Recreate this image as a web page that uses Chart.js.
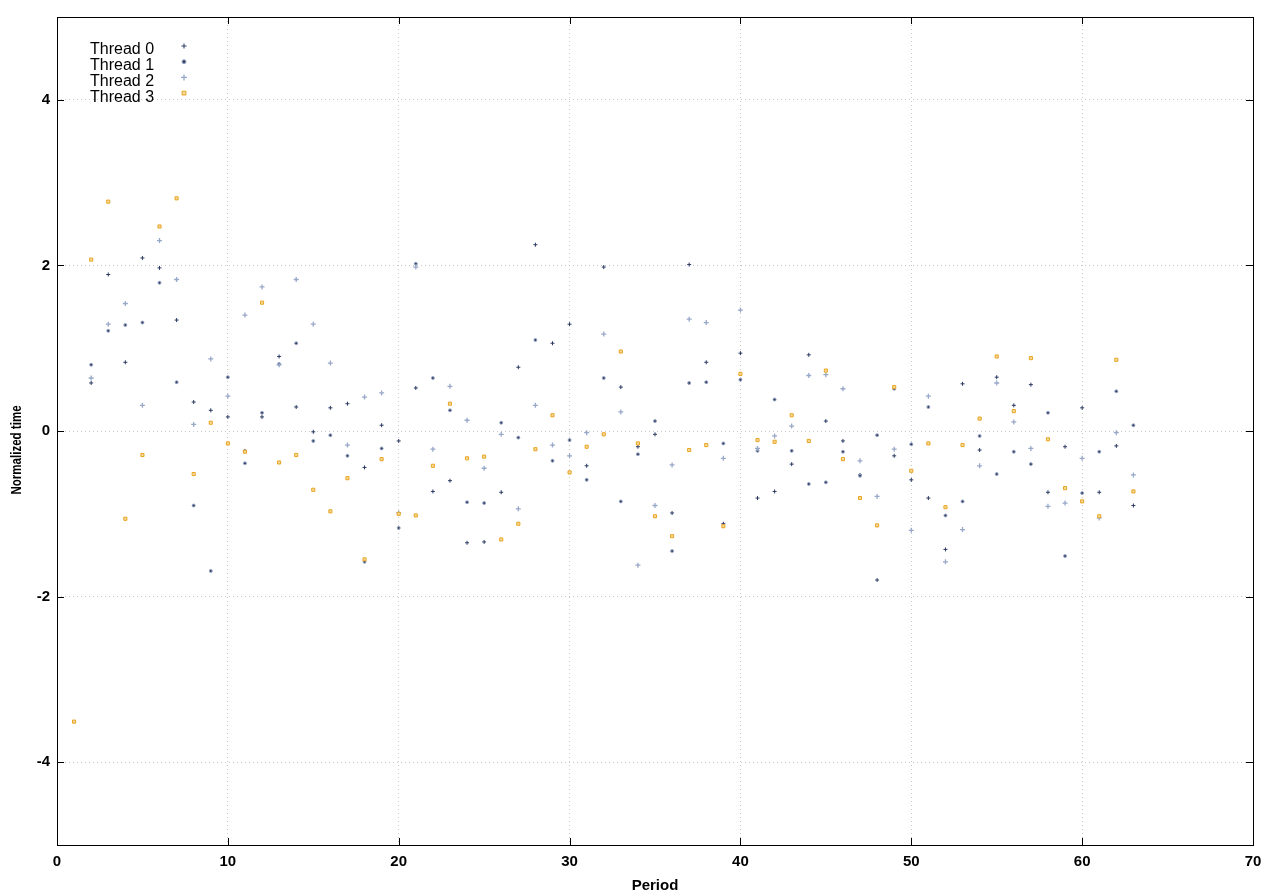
<!DOCTYPE html>
<html>
<head>
<meta charset="utf-8">
<script src="https://cdn.jsdelivr.net/npm/chart.js@4"></script>
<style>
  html, body { margin: 0; padding: 0; background: #fff; }
  #wrap { width: 1280px; height: 896px; }
</style>
</head>
<body>
<div id="wrap"><canvas id="chart"></canvas></div>
<script>
const periods = [1, 2, 3, 4, 5, 6, 7, 8, 9, 10, 11, 12, 13, 14, 15, 16, 17, 18, 19, 20, 21,
  22, 23, 24, 25, 26, 27, 28, 29, 30, 31, 32, 33, 34, 35, 36, 37, 38, 39, 40, 41, 42,
  43, 44, 45, 46, 47, 48, 49, 50, 51, 52, 53, 54, 55, 56, 57, 58, 59, 60, 61, 62, 63];

const thread0 = [null, 0.58, 1.89, 0.83, 2.09, 1.97, 1.34, 0.35, 0.25, 0.17, -0.24,
  0.17, 0.90, 0.29, -0.01, 0.28, 0.33, -0.44, 0.07, -0.12, 0.52, -0.73,
  -0.60, -1.35, -1.34, -0.74, 0.77, 2.25, 1.06, 1.29, -0.42, 1.98, 0.53,
  -0.19, -0.04, -0.99, 2.01, 0.83, -1.12, 0.94, -0.81, -0.73, -0.40, 0.92,
  0.12, -0.12, -0.53, -1.80, -0.30, -0.59, -0.81, -1.43, 0.57, -0.23, 0.65,
  0.31, 0.56, -0.74, -0.19, 0.28, -0.74, -0.18, -0.90];

const thread1 = [null, 0.80, 1.21, 1.28, 1.31, 1.79, 0.59, -0.90, -1.69, 0.65, -0.39,
  0.22, 0.81, 1.06, -0.12, -0.05, -0.30, -1.58, -0.21, -1.17, 2.02, 0.64,
  0.25, -0.86, -0.87, 0.10, -0.08, 1.10, -0.36, -0.11, -0.59, 0.64, -0.85,
  -0.28, 0.12, -1.45, 0.58, 0.59, -0.15, 0.62, -0.24, 0.38, -0.24, -0.64,
  -0.62, -0.25, -0.54, -0.05, 0.51, -0.16, 0.29, -1.02, -0.85, -0.06, -0.52,
  -0.25, -0.40, 0.22, -1.51, -0.75, -0.25, 0.48, 0.07];

const thread2 = [null, 0.64, 1.29, 1.54, 0.31, 2.30, 1.83, 0.08, 0.87, 0.42, 1.40,
  1.74, 0.80, 1.83, 1.29, 0.82, -0.17, 0.41, 0.46, -0.99, 1.98, -0.22,
  0.54, 0.13, -0.45, -0.04, -0.94, 0.31, -0.17, -0.30, -0.02, 1.17, 0.23,
  -1.62, -0.90, -0.41, 1.35, 1.31, -0.33, 1.46, -0.21, -0.06, 0.06, 0.67,
  0.68, 0.51, -0.36, -0.79, -0.22, -1.20, 0.42, -1.58, -1.19, -0.42, 0.58,
  0.11, -0.21, -0.91, -0.87, -0.33, -1.05, -0.02, -0.53];

const thread3 = [-3.51, 2.07, 2.77, -1.06, -0.29, 2.47, 2.81, -0.52, 0.10, -0.15, -0.25,
  1.55, -0.38, -0.29, -0.71, -0.97, -0.57, -1.55, -0.34, -1.00, -1.02, -0.42,
  0.33, -0.33, -0.31, -1.31, -1.12, -0.22, 0.19, -0.50, -0.19, -0.04, 0.96,
  -0.15, -1.03, -1.27, -0.23, -0.17, -1.15, 0.69, -0.11, -0.13, 0.19, -0.12,
  0.73, -0.34, -0.81, -1.14, 0.53, -0.48, -0.15, -0.92, -0.17, 0.15, 0.90,
  0.24, 0.88, -0.10, -0.69, -0.85, -1.03, 0.86, -0.73];

const seriesNames = ['Thread 0', 'Thread 1', 'Thread 2', 'Thread 3'];
const yTicks = [-4, -2, 0, 2, 4];
const xTicks = [0, 10, 20, 30, 40, 50, 60, 70];
const yTitle = 'Normalized time';

const axisFont = "'Liberation Sans Narrow', 'Arial Narrow', 'Liberation Sans', sans-serif";

const styles = [
  { pointStyle: 'cross', radius: 2, borderWidth: 1, borderColor: '#2b3a62', backgroundColor: '#2b3a62' },
  { pointStyle: 'circle', radius: 1.5, borderWidth: 1, borderColor: '#9ba7c1', backgroundColor: '#34436a' },
  { pointStyle: 'cross', radius: 2.5, borderWidth: 1.3, borderColor: '#98a8c8', backgroundColor: '#98a8c8' },
  { pointStyle: 'rect', radius: 2.2, borderWidth: 1, borderColor: '#e8a420', backgroundColor: '#f6dc9c' }
];

function toPoints(values) {
  return periods.map((p, i) => ({ x: p, y: values[i] })).filter(pt => pt.y !== null);
}

const datasets = [thread0, thread1, thread2, thread3].map((vals, i) => ({
  label: seriesNames[i],
  data: toPoints(vals),
  pointStyle: styles[i].pointStyle,
  pointRadius: styles[i].radius,
  pointHoverRadius: styles[i].radius,
  pointBorderWidth: styles[i].borderWidth,
  borderColor: styles[i].borderColor,
  backgroundColor: styles[i].backgroundColor,
  showLine: false,
  order: 4 - i
}));

// box + inward ticks on all four sides, like gnuplot
const framePlugin = {
  id: 'frame',
  afterDatasetsDraw(chart) {
    const { ctx, chartArea: a, scales } = chart;
    const len = 7;
    ctx.save();
    ctx.strokeStyle = '#000';
    ctx.lineWidth = 1;
    ctx.beginPath();
    xTicks.forEach(v => {
      const px = Math.round(scales.x.getPixelForValue(v)) + 0.5;
      ctx.moveTo(px, a.bottom); ctx.lineTo(px, a.bottom - len);
      ctx.moveTo(px, a.top); ctx.lineTo(px, a.top + len);
    });
    yTicks.forEach(v => {
      const py = Math.round(scales.y.getPixelForValue(v)) + 0.5;
      ctx.moveTo(a.left, py); ctx.lineTo(a.left + len, py);
      ctx.moveTo(a.right, py); ctx.lineTo(a.right - len, py);
    });
    ctx.stroke();
    ctx.strokeRect(Math.round(a.left) + 0.5, Math.round(a.top) + 0.5,
      Math.round(a.right - a.left), Math.round(a.bottom - a.top));
    ctx.restore();
  }
};

// key in the top-left corner: text first, sample on the right
const keyPlugin = {
  id: 'key',
  afterDraw(chart) {
    const { ctx } = chart;
    ctx.save();
    ctx.font = "16px 'Liberation Sans', Arial, sans-serif";
    ctx.textBaseline = 'middle';
    ctx.textAlign = 'left';
    seriesNames.forEach((name, i) => {
      const ty = 50 + i * 15.7;
      ctx.fillStyle = '#000';
      ctx.fillText(name, 90, ty);
      const s = styles[i];
      ctx.strokeStyle = s.borderColor;
      ctx.fillStyle = s.backgroundColor;
      ctx.lineWidth = s.borderWidth;
      Chart.helpers.drawPoint(ctx, { pointStyle: s.pointStyle, radius: s.radius + 0.5, borderWidth: s.borderWidth, rotation: 0 }, 184, ty - 4);
    });
    ctx.restore();
  }
};

// narrow bold y label, as in the original
const yTitlePlugin = {
  id: 'ytitle',
  afterDraw(chart) {
    const { ctx } = chart;
    ctx.save();
    ctx.translate(17, 450);
    ctx.rotate(-Math.PI / 2);
    ctx.scale(0.77, 1);
    ctx.font = "bold 15px 'Liberation Sans', Arial, sans-serif";
    ctx.fillStyle = '#000';
    ctx.textAlign = 'center';
    ctx.textBaseline = 'middle';
    ctx.fillText(yTitle, 0, 0);
    ctx.restore();
  }
};

new Chart(document.getElementById('chart'), {
  type: 'scatter',
  data: { datasets },
  options: {
    responsive: true,
    maintainAspectRatio: false,
    animation: false,
    layout: { padding: { top: 17, right: 27, left: 0, bottom: 0 } },
    plugins: {
      legend: { display: false },
      tooltip: { enabled: false }
    },
    scales: {
      x: {
        type: 'linear',
        min: 0,
        max: 70,
        afterBuildTicks: scale => { scale.ticks = xTicks.map(v => ({ value: v })); },
        afterFit: scale => { scale.height = 51; },
        ticks: { color: '#000', padding: 8, maxRotation: 0, font: { family: axisFont, size: 15, weight: 'bold' } },
        grid: { color: '#c8c8c8', lineWidth: 1, drawTicks: false },
        border: { display: false, dash: [1, 3] },
        title: { display: true, text: 'Period', color: '#000', padding: { top: 0, bottom: 1 }, font: { family: axisFont, size: 15, weight: 'bold' } }
      },
      y: {
        type: 'linear',
        min: -5,
        max: 5,
        afterBuildTicks: scale => { scale.ticks = yTicks.map(v => ({ value: v })); },
        afterFit: scale => { scale.width = 57; },
        ticks: { color: '#000', padding: 7, font: { family: axisFont, size: 15, weight: 'bold' } },
        grid: { color: '#c8c8c8', lineWidth: 1, drawTicks: false },
        border: { display: false, dash: [1, 3] },
        title: { display: false }
      }
    }
  },
  plugins: [framePlugin, keyPlugin, yTitlePlugin]
});
</script>
</body>
</html>
